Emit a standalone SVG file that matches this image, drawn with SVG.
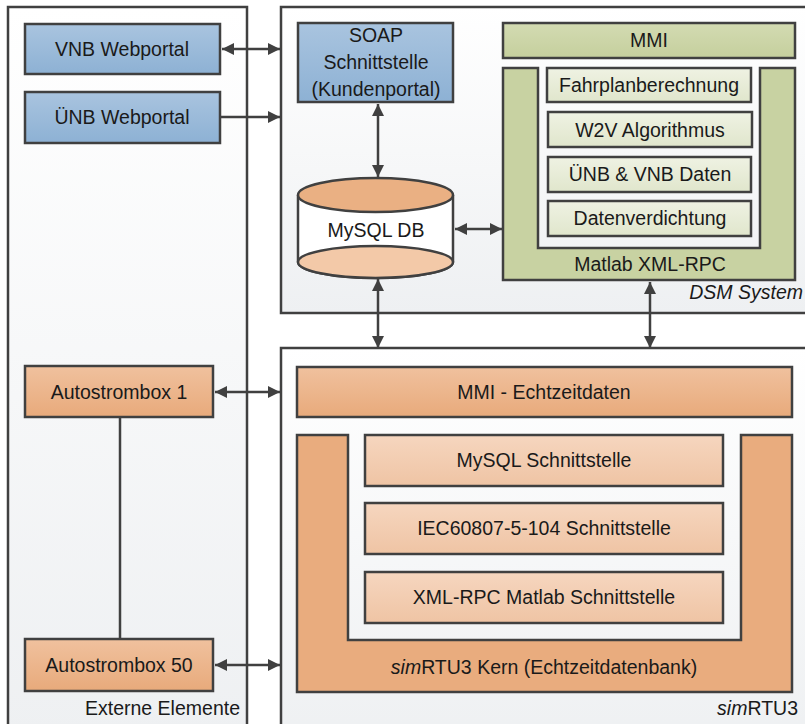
<svg xmlns="http://www.w3.org/2000/svg" width="805" height="724" viewBox="0 0 805 724">
<defs>
<linearGradient id="gCont" x1="0" y1="0" x2="0" y2="1"><stop offset="0" stop-color="#ffffff"/><stop offset="1" stop-color="#eef0f2"/></linearGradient>
<linearGradient id="gBlue" x1="0" y1="0" x2="0" y2="1"><stop offset="0" stop-color="#a9c4df"/><stop offset="1" stop-color="#8db1d4"/></linearGradient>
<linearGradient id="gGreen" x1="0" y1="0" x2="0" y2="1"><stop offset="0" stop-color="#d3dbb2"/><stop offset="1" stop-color="#c5cf9d"/></linearGradient>
<linearGradient id="gLGreen" x1="0" y1="0" x2="0" y2="1"><stop offset="0" stop-color="#eff2e3"/><stop offset="1" stop-color="#e0e6cc"/></linearGradient>
<linearGradient id="gOrange" x1="0" y1="0" x2="0" y2="1"><stop offset="0" stop-color="#f0c19e"/><stop offset="1" stop-color="#e8aa7b"/></linearGradient>
<linearGradient id="gLOrange" x1="0" y1="0" x2="0" y2="1"><stop offset="0" stop-color="#f6d6bf"/><stop offset="1" stop-color="#efc4a4"/></linearGradient>
<marker id="ah" viewBox="0 0 12 12" refX="12" refY="6" markerWidth="12" markerHeight="12" markerUnits="userSpaceOnUse" orient="auto-start-reverse"><path d="M0,0 L12,6 L0,12 Z" fill="#404040"/></marker>
<style>
.c{stroke:#404040;stroke-width:2.5;fill:url(#gCont)}
.n{stroke:#404040;stroke-width:2.5}
.t{font-family:"Liberation Sans",Arial,sans-serif;font-size:19.5px;fill:#1a1a1a;text-anchor:middle}
.l{font-family:"Liberation Sans",Arial,sans-serif;font-size:19.5px;fill:#1a1a1a}
.a{stroke:#404040;stroke-width:2.5;fill:none}
</style>
</defs>

<g id="externe">
<rect class="c" x="8" y="7" width="239" height="730"/>
<text class="l" x="240" y="715" text-anchor="end">Externe Elemente</text>
</g>
<g id="dsm">
<rect class="c" x="281" y="7" width="540" height="306"/>
<text class="l" x="803" y="299" font-style="italic" text-anchor="end">DSM System</text>
</g>
<g id="simrtu3">
<rect class="c" x="281" y="348" width="540" height="400"/>
<text class="l" x="798" y="715" text-anchor="end"><tspan font-style="italic">sim</tspan>RTU3</text>
</g>

<g id="vnb"><rect class="n" x="25" y="24" width="195" height="50" fill="url(#gBlue)"/><text class="t" x="122" y="56">VNB Webportal</text></g>
<g id="unb"><rect class="n" x="25" y="92" width="195" height="51" fill="url(#gBlue)"/><text class="t" x="122" y="124">ÜNB Webportal</text></g>
<g id="soap"><rect class="n" x="298" y="23" width="155" height="79" fill="url(#gBlue)"/>
<text class="t" x="376" y="42">SOAP</text><text class="t" x="376" y="69">Schnittstelle</text><text class="t" x="376" y="96">(Kundenportal)</text></g>
<g id="mysqldb">
<path class="n" d="M298,195 V262 A77.5,16 0 0 0 453,262 V195" fill="#ffffff"/>
<ellipse class="n" cx="375.5" cy="262" rx="77.5" ry="16" fill="#f3c9a8"/>
<ellipse class="n" cx="375.5" cy="195" rx="77.5" ry="17" fill="#eab083"/>
<text class="t" x="376" y="237">MySQL DB</text>
</g>
<g id="mmi"><rect class="n" x="503" y="23" width="292" height="35" fill="url(#gGreen)"/><text class="t" x="649" y="47">MMI</text></g>
<g id="matlab"><path class="n" d="M503,68 H538 V248 H760 V68 H795 V280 H503 Z" fill="#c8d2a2"/><text class="t" x="650" y="271">Matlab XML-RPC</text></g>
<g id="fahrplan"><rect class="n" x="547" y="68" width="204" height="34" fill="url(#gLGreen)"/><text class="t" x="649" y="92">Fahrplanberechnung</text></g>
<g id="w2v"><rect class="n" x="548" y="112" width="204" height="35" fill="url(#gLGreen)"/><text class="t" x="650" y="137">W2V Algorithmus</text></g>
<g id="daten"><rect class="n" x="548" y="157" width="203" height="35" fill="url(#gLGreen)"/><text class="t" x="650" y="181">ÜNB &amp; VNB Daten</text></g>
<g id="verdichtung"><rect class="n" x="548" y="201" width="203" height="35" fill="url(#gLGreen)"/><text class="t" x="650" y="225">Datenverdichtung</text></g>

<g id="mmiecht"><rect class="n" x="297" y="367" width="495" height="50" fill="url(#gOrange)"/><text class="t" x="544" y="399">MMI - Echtzeitdaten</text></g>
<g id="kern"><path class="n" d="M297,435 H348 V640 H741 V435 H792 V692 H297 Z" fill="#e9ac7e"/><text class="t" x="544" y="674"><tspan font-style="italic">sim</tspan>RTU3 Kern (Echtzeitdatenbank)</text></g>
<g id="mysqlif"><rect class="n" x="365" y="435" width="358" height="51" fill="url(#gLOrange)"/><text class="t" x="544" y="467">MySQL Schnittstelle</text></g>
<g id="iec"><rect class="n" x="365" y="503" width="358" height="51" fill="url(#gLOrange)"/><text class="t" x="544" y="535">IEC60807-5-104 Schnittstelle</text></g>
<g id="xmlrpc"><rect class="n" x="365" y="572" width="358" height="51" fill="url(#gLOrange)"/><text class="t" x="544" y="604">XML-RPC Matlab Schnittstelle</text></g>

<g id="asb1"><rect class="n" x="25" y="366" width="188" height="51" fill="url(#gOrange)"/><text class="t" x="119" y="399">Autostrombox 1</text></g>
<g id="asb50"><rect class="n" x="25" y="639" width="188" height="52" fill="url(#gOrange)"/><text class="t" x="119" y="672">Autostrombox 50</text></g>

<g id="connectors">
<line class="a" x1="222" y1="49" x2="280" y2="49" marker-start="url(#ah)" marker-end="url(#ah)"/>
<line class="a" x1="221" y1="117" x2="280" y2="117" marker-end="url(#ah)"/>
<line class="a" x1="378" y1="104" x2="378" y2="177" marker-start="url(#ah)" marker-end="url(#ah)"/>
<line class="a" x1="455" y1="229" x2="502" y2="229" marker-start="url(#ah)" marker-end="url(#ah)"/>
<line class="a" x1="378" y1="279" x2="378" y2="348" marker-start="url(#ah)" marker-end="url(#ah)"/>
<line class="a" x1="650" y1="282" x2="650" y2="348" marker-start="url(#ah)" marker-end="url(#ah)"/>
<line class="a" x1="215" y1="392" x2="280" y2="392" marker-start="url(#ah)" marker-end="url(#ah)"/>
<line class="a" x1="215" y1="665" x2="280" y2="665" marker-start="url(#ah)" marker-end="url(#ah)"/>
<line class="a" x1="120" y1="418" x2="120" y2="638"/>
</g>
</svg>
